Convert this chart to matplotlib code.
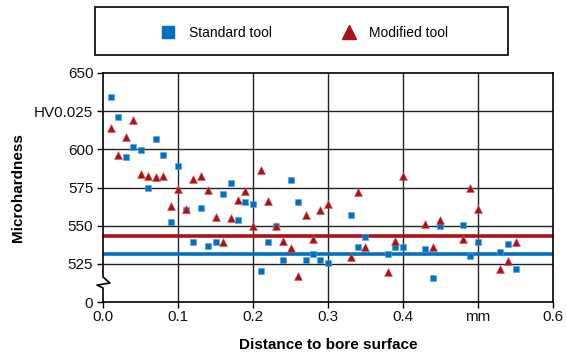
import matplotlib
matplotlib.use("Agg")
import matplotlib.pyplot as plt
from matplotlib.lines import Line2D
from matplotlib.patches import Rectangle

plt.rcParams['font.family'] = ['Liberation Sans', 'DejaVu Sans']

# Data
std_x = [0.01, 0.02, 0.03, 0.04, 0.05, 0.06, 0.07, 0.08, 0.09, 0.10,
         0.11, 0.12, 0.13, 0.14, 0.15, 0.16, 0.17, 0.18, 0.19, 0.20,
         0.21, 0.22, 0.23, 0.24, 0.25, 0.26, 0.27, 0.28, 0.29, 0.30,
         0.33, 0.34, 0.35, 0.38, 0.39, 0.40, 0.43, 0.44, 0.45,
         0.48, 0.49, 0.50, 0.53, 0.54, 0.55]
std_y = [634, 621, 595, 601.5, 599.3, 575, 606.7, 596.2, 552.6, 588.8,
         560.5, 539, 561.5, 537, 539, 571, 577.7, 553.7, 565.2, 564,
         520, 539.5, 550, 527.3, 579.8, 565.6, 527.5, 531.4, 527.5, 525.7,
         557, 535.8, 542.7, 531.4, 535.8, 535.8, 534.7, 515.7, 549.9,
         550.4, 529.9, 539.5, 532.5, 538.2, 521.8]

mod_x = [0.01, 0.02, 0.03, 0.04, 0.05, 0.06, 0.07, 0.08, 0.09, 0.10,
         0.11, 0.12, 0.13, 0.14, 0.15, 0.16, 0.17, 0.18, 0.19, 0.20,
         0.21, 0.22, 0.23, 0.24, 0.25, 0.26, 0.27, 0.28, 0.29, 0.30,
         0.33, 0.34, 0.35, 0.38, 0.39, 0.40, 0.43, 0.44, 0.45,
         0.48, 0.49, 0.50, 0.53, 0.54, 0.55]
mod_y = [614, 596.4, 608.4, 619, 583.8, 582.5, 582, 582.7, 563, 573.8,
         561, 580.3, 582.7, 573.3, 555.4, 539.5, 554.8, 566.8, 572.6, 549.9,
         586.3, 565.9, 550, 539.9, 535.1, 517.2, 556.7, 541, 560.5, 564,
         529.7, 571.8, 535.8, 519.8, 540.1, 582.3, 550.8, 536.2, 553.5,
         541.2, 574.8, 560.9, 521.6, 527, 539.5]

std_mean = 531.5
mod_mean = 543.5

xticks = [0.0, 0.1, 0.2, 0.3, 0.4, 0.5, 0.6]
xtick_labels = ['0.0', '0.1', '0.2', '0.3', '0.4', 'mm', '0.6']
yticks = [500, 525, 550, 575, 600, 625, 650]
ytick_labels = ['0', '525', '550', '575', '600', 'HV0.025', '650']

blue = '#0070c0'
red = '#aa1218'

W, H = 567, 356
fig = plt.figure(figsize=(W / 100, H / 100), dpi=100)
ax = fig.add_axes([103 / W, 1 - 302 / H, 450 / W, 229 / H])

ax.set_xlim(0, 0.6)
ax.set_ylim(500, 650)

# grid
for xv in xticks[1:-1]:
    ax.axvline(xv, color='#222222', lw=1.0, zorder=1)
for yv in yticks[1:-1]:
    ax.axhline(yv, color='#222222', lw=1.0, zorder=1)

ax.axhline(mod_mean, color=red, lw=2.6, zorder=2)
ax.axhline(std_mean, color=blue, lw=2.6, zorder=2)

ax.plot(std_x, std_y, linestyle='none', marker='s', ms=5.0, color=blue,
        mec='#5aa0dc', mew=0.4, zorder=3)
ax.plot(mod_x, mod_y, linestyle='none', marker='^', ms=6.0, color=red,
        mec='#d06060', mew=0.4, zorder=4)

ax.set_xticks(xticks)
ax.set_xticklabels(xtick_labels)
ax.set_yticks(yticks)
ax.set_yticklabels(ytick_labels)
ax.tick_params(axis='both', direction='out', length=4, width=1,
               labelsize=11, color='black', labelcolor='#111111', pad=2)
ax.tick_params(axis='y', pad=3)

for s in ['top', 'right', 'bottom']:
    ax.spines[s].set_linewidth(1.2)
    ax.spines[s].set_color('black')
ax.spines['left'].set_visible(False)

# left spine with break symbol
dx = 0.6 / 450.0
bx = [0, 0, 7 * dx, -6 * dx, 0, 0]
by = [650, 516.4, 512.4, 511.1, 509.2, 500]
ax.add_line(Line2D(bx, by, color='black', lw=1.2, clip_on=False, zorder=5))

ax.set_xlabel('Distance to bore surface', fontsize=11, fontweight='bold',
              labelpad=10)
ax.set_ylabel('Microhardness', fontsize=11, fontweight='bold')
ax.yaxis.set_label_coords((18 - 103) / 450, 0.5)
ax.xaxis.set_label_coords(0.5, -(345 - 302) / 229)
ax.xaxis.label.set_va('center')
ax.yaxis.label.set_va('center')

# legend
rect = Rectangle((95 / W, 1 - 55 / H), 413 / W, 48 / H, transform=fig.transFigure,
                 fill=False, edgecolor='black', lw=1.2)
fig.patches.append(rect)
handles = [Line2D([], [], linestyle='none', marker='s', ms=9, color=blue),
           Line2D([], [], linestyle='none', marker='^', ms=10, color=red)]
fig.legend(handles, ['Standard tool', 'Modified tool'], loc='center',
           bbox_to_anchor=(305 / W, 1 - 33 / H), ncol=2, frameon=False,
           fontsize=10, handlelength=1.0, handletextpad=1.0,
           columnspacing=5.0)

fig.savefig('out.png', dpi=100)
